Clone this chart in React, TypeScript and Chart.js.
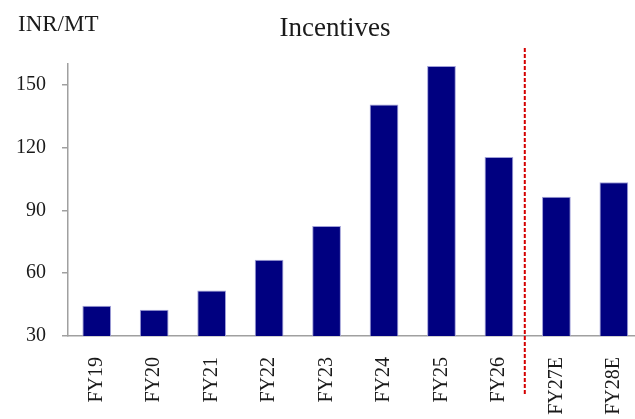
import React, { useEffect, useRef } from "react";
import { Chart, registerables } from "chart.js";

Chart.register(...registerables);

const categories = ["FY19", "FY20", "FY21", "FY22", "FY23", "FY24", "FY25", "FY26", "FY27E", "FY28E"];
const incentives = [44.5, 42.6, 51.8, 66.5, 82.6, 140.7, 159, 115.6, 96.6, 103.5];
const yTicks = [30, 60, 90, 120, 150];
const titleText = "Incentives";
const unitText = "INR/MT";
const forecastDividerIndex = 7.45;

const serif = "'Liberation Serif', 'Times New Roman', serif";

const textPlugin = {
  id: "customText",
  afterDraw(chart: any) {
    const ctx = chart.ctx;
    ctx.save();
    ctx.fillStyle = "#1a1a1a";
    ctx.textBaseline = "alphabetic";
    ctx.font = `23px ${serif}`;
    ctx.textAlign = "left";
    ctx.fillText(unitText, 18, 31);
    ctx.font = `27px ${serif}`;
    ctx.textAlign = "center";
    ctx.fillText(titleText, 335, 36);
    ctx.restore();
  },
};

const dividerPlugin = {
  id: "divider",
  afterDatasetsDraw(chart: any) {
    const ctx = chart.ctx;
    const x = chart.scales.x.getPixelForValue(forecastDividerIndex);
    const { top, bottom } = chart.chartArea;
    ctx.save();
    ctx.strokeStyle = "#d40000";
    ctx.lineWidth = 2;
    ctx.setLineDash([4, 2]);
    ctx.beginPath();
    ctx.moveTo(x, top - 16);
    ctx.lineTo(x, bottom + 59);
    ctx.stroke();
    ctx.restore();
  },
};

export default function App() {
  const ref = useRef<HTMLCanvasElement | null>(null);
  useEffect(() => {
    if (!ref.current) return;
    const chart = new Chart(ref.current, {
      type: "bar",
      data: {
        labels: categories,
        datasets: [
          {
            data: incentives,
            backgroundColor: "#000080",
            borderColor: "#a0a0d8",
            borderWidth: 1,
            barPercentage: 0.5,
            categoryPercentage: 1,
          },
        ],
      },
      options: {
        responsive: false,
        animation: false,
        devicePixelRatio: 1,
        layout: { padding: { top: 64, left: 0, right: 3, bottom: 0 } },
        plugins: { legend: { display: false }, title: { display: false }, tooltip: { enabled: false } },
        scales: {
          x: {
            offset: true,
            grid: { display: false, drawTicks: false },
            border: { display: true, color: "#a0a0a0", width: 1.5 },
            ticks: {
              minRotation: 90,
              maxRotation: 90,
              padding: 21,
              color: "#1a1a1a",
              font: { family: serif, size: 20 },
            },
            afterFit(scale: any) {
              scale.height = 83;
            },
          },
          y: {
            min: 30,
            max: 160,
            grid: { display: true, drawOnChartArea: false, drawTicks: true, tickLength: 6, color: "#a0a0a0", lineWidth: 1.5 },
            border: { display: true, color: "#a0a0a0", width: 1.5 },
            ticks: {
              stepSize: 30,
              includeBounds: false,
              padding: 16,
              color: "#1a1a1a",
              font: { family: serif, size: 20 },
            },
            afterBuildTicks(scale: any) {
              scale.ticks = yTicks.map((v) => ({ value: v }));
            },
            afterFit(scale: any) {
              scale.width = 68;
            },
          },
        },
      },
      plugins: [textPlugin, dividerPlugin],
    });
    return () => chart.destroy();
  }, []);
  return (
    <div style={{ position: "fixed", left: 0, top: 0, width: 659, height: 419, background: "#fff" }}>
      <canvas ref={ref} width={659} height={419} style={{ display: "block" }} />
    </div>
  );
}
